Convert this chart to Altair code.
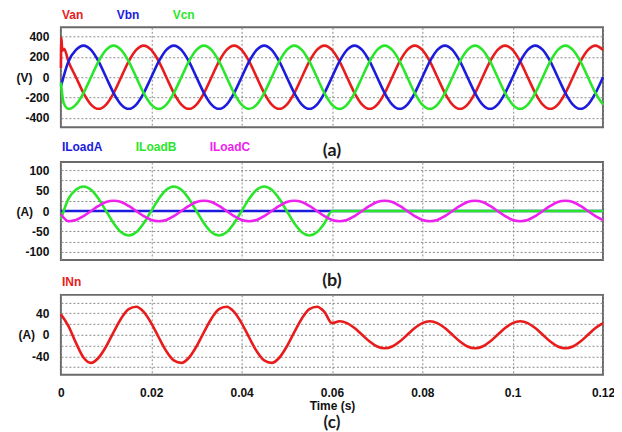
import altair as alt
import pandas as pd

# ---------------- data ----------------
# sample instants: every 1/12 of a 50 Hz cycle (1/600 s)
T = [round(k / 600, 6) for k in range(73)]
X_TICKS = [0, 0.02, 0.04, 0.06, 0.08, 0.1, 0.12]

# (a) phase voltages, V
VAN = [90, 155, 0, -155, -268, -310, -268, -155, 0, 155, 268, 310,
       268, 155, 0, -155, -268, -310, -268, -155, 0, 155, 268, 310,
       268, 155, 0, -155, -268, -310, -268, -155, 0, 155, 268, 310,
       268, 155, 0, -155, -268, -310, -268, -155, 0, 155, 268, 310,
       268, 155, 0, -155, -268, -310, -268, -155, 0, 155, 268, 310,
       268, 155, 0, -155, -268, -310, -268, -155, 0, 155, 268, 310,
       268]
VAN_START_T = [0.0001, 0.0003, 0.0007]
VAN_START_V = [390, 260, 280]

VBN = [-90, 155, 268, 310, 268, 155, 0, -155, -268, -310, -268, -155,
       0, 155, 268, 310, 268, 155, 0, -155, -268, -310, -268, -155,
       0, 155, 268, 310, 268, 155, 0, -155, -268, -310, -268, -155,
       0, 155, 268, 310, 268, 155, 0, -155, -268, -310, -268, -155,
       0, 155, 268, 310, 268, 155, 0, -155, -268, -310, -268, -155,
       0, 155, 268, 310, 268, 155, 0, -155, -268, -310, -268, -155,
       0]

VCN = [-50, -310, -268, -155, 0, 155, 268, 310, 268, 155, 0, -155,
       -268, -310, -268, -155, 0, 155, 268, 310, 268, 155, 0, -155,
       -268, -310, -268, -155, 0, 155, 268, 310, 268, 155, 0, -155,
       -268, -310, -268, -155, 0, 155, 268, 310, 268, 155, 0, -155,
       -268, -310, -268, -155, 0, 155, 268, 310, 268, 155, 0, -155,
       -268, -310, -268, -155, 0, 155, 268, 310, 268, 155, 0, -155,
       -268]
VCN_START_T = [0.0006]
VCN_START_V = [-250]

# (b) load currents, A
ILOADA_T = [0, 0.12]
ILOADA = [0, 0]

ILOADB_T = T[:37] + [0.12]
ILOADB = [-20, 30, 52, 60, 52, 30, 0, -30, -52, -60, -52, -30,
          0, 30, 52, 60, 52, 30, 0, -30, -52, -60, -52, -30,
          0, 30, 52, 60, 52, 30, 0, -30, -52, -60, -52, -30,
          0, 0]

ILOADC = [-8, -25, -22, -12.5, 0, 12.5, 22, 25, 22, 12.5, 0, -12.5,
          -22, -25, -22, -12.5, 0, 12.5, 22, 25, 22, 12.5, 0, -12.5,
          -22, -25, -22, -12.5, 0, 12.5, 22, 25, 22, 12.5, 0, -12.5,
          -22, -25, -22, -12.5, 0, 12.5, 22, 25, 22, 12.5, 0, -12.5,
          -22, -25, -22, -12.5, 0, 12.5, 22, 25, 22, 12.5, 0, -12.5,
          -22, -25, -22, -12.5, 0, 12.5, 22, 25, 22, 12.5, 0, -12.5,
          -22]

# (c) neutral current, A
INN = [38, 16, -15, -42, -52, -42.5, -21.7, 5, 30.3, 47.5, 52, 42.5,
       21.7, -5, -30.3, -47.5, -52, -42.5, -21.7, 5, 30.3, 47.5, 52, 42.5,
       21.7, -5, -30.3, -47.5, -52, -42.5, -21.7, 5, 30.3, 47.5, 52, 42.5,
       21.7, 25, 21.7, 12.5, 0, -12.5, -21.7, -25, -21.7, -12.5, 0, 12.5,
       21.7, 25, 21.7, 12.5, 0, -12.5, -21.7, -25, -21.7, -12.5, 0, 12.5,
       21.7, 25, 21.7, 12.5, 0, -12.5, -21.7, -25, -21.7, -12.5, 0, 12.5,
       21.7]

# ---------------- styling ----------------
FONT = "Liberation Sans"
RED, BLUE, GREEN, MAGENTA = "#e81c1c", "#1c1cdc", "#2ae62a", "#ee22ee"
GRID = "#8a8a8a"
W = 543


def make_df(series):
    rows = []
    for order, (name, ts, vs) in enumerate(series):
        pts = sorted(zip(ts, vs))
        for t, v in pts:
            rows.append({"t": t, "v": v, "s": name, "o": order})
    return pd.DataFrame(rows)


def color_expr(names, colors):
    expr = f"'{colors[-1]}'"
    for n, c in reversed(list(zip(names[:-1], colors[:-1]))):
        expr = f"datum.value === '{n}' ? '{c}' : {expr}"
    return expr


def panel(df, names, colors, ydom, yvals, step, unit, height, unit_x,
          legend_y, tag, tag_size, tag_offset, bottom):
    xaxis = alt.Axis(
        values=X_TICKS, grid=True, gridDash=[2, 2], gridColor=GRID,
        gridWidth=1, ticks=False, domain=False, labels=bottom,
        labelExpr="'' + datum.value", labelFont=FONT, labelFontSize=12,
        labelFontWeight="bold", labelColor="#111", labelPadding=13,
        labelFlush=False, labelOverlap=False,
        title="Time (s)" if bottom else None,
        titleFont=FONT, titleFontSize=12, titleFontWeight="bold",
        titleColor="#111", titlePadding=1.5,
    )
    yaxis = alt.Axis(
        values=yvals, grid=True, gridDash=[2, 2], gridColor=GRID,
        gridWidth=1, ticks=False, domain=False,
        labelExpr=f"datum.value % {step} === 0 ? '' + datum.value : ''",
        labelFont=FONT, labelFontSize=12, labelFontWeight="bold",
        labelColor="#111", labelPadding=12,
        title=unit, titleAngle=0, titleX=unit_x, titleY=height / 2,
        titleAlign="left", titleBaseline="middle", titleFont=FONT,
        titleFontSize=12, titleFontWeight="bold", titleColor="#111",
    )
    legend = alt.Legend(
        orient="none", legendX=-11, legendY=legend_y, direction="horizontal",
        columns=len(names), title=None, symbolSize=0, symbolStrokeWidth=0,
        symbolOpacity=0, labelOffset=0, columnPadding=21, padding=0,
        labelFont=FONT, labelFontSize=12, labelFontWeight="bold",
        labelColor={"expr": color_expr(names, colors)},
    )
    return alt.Chart(df).mark_line(
        interpolate="monotone", strokeWidth=2.6
    ).encode(
        x=alt.X("t:Q", scale=alt.Scale(domain=[0, 0.12], nice=False), axis=xaxis),
        y=alt.Y("v:Q", scale=alt.Scale(domain=ydom, nice=False), axis=yaxis),
        color=alt.Color("s:N", scale=alt.Scale(domain=names, range=colors),
                        legend=legend),
        order=alt.Order("t:Q"),
    ).properties(
        width=W, height=height,
        title=alt.TitleParams(tag, orient="bottom", anchor="middle",
                              frame="group", font="Lato", fontSize=tag_size,
                              fontWeight="bold", color="#1b1b1b",
                              offset=tag_offset),
    )


df_a = make_df([
    ("Van", T + VAN_START_T, VAN + VAN_START_V),
    ("Vbn", T, VBN),
    ("Vcn", T + VCN_START_T, VCN + VCN_START_V),
])
df_b = make_df([
    ("ILoadA", ILOADA_T, ILOADA),
    ("ILoadB", ILOADB_T, ILOADB),
    ("ILoadC", T, ILOADC),
])
df_c = make_df([("INn", T, INN)])

pa = panel(df_a, ["Van", "Vbn", "Vcn"], [RED, BLUE, GREEN], [-490, 490],
           [-400, -200, 0, 200, 400], 200, "(V)", 100, -45, -18,
           "(a)", 18, 15, False)
pb = panel(df_b, ["ILoadA", "ILoadB", "ILoadC"], [BLUE, GREEN, MAGENTA],
           [-120, 120], [-100, -75, -50, -25, 0, 25, 50, 75, 100], 50, "(A)",
           98, -45, -21, "(b)", 18, 12, False)
pc = panel(df_c, ["INn"], [RED], [-74, 74], [-60, -40, -20, 0, 20, 40, 60],
           40, "(A)", 80, -43, -19, "(c)", 17, 3.5, True)

chart = alt.vconcat(pa, pb, pc, spacing=35, bounds="flush").resolve_scale(
    color="independent"
).properties(
    padding={"left": 7, "top": 0, "right": -2, "bottom": 0},
    background="white",
).configure_view(stroke="#6a6a6a", strokeWidth=2)

chart.save("out.html", embed_options={"renderer": "svg", "actions": False})
